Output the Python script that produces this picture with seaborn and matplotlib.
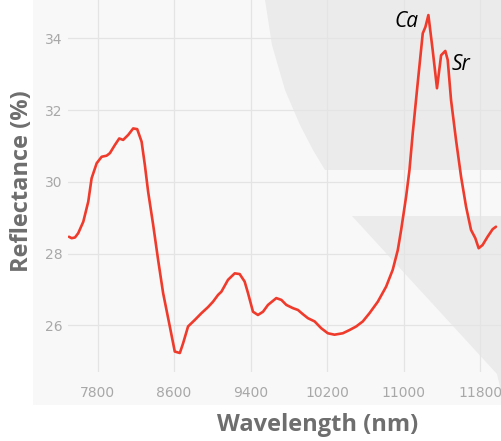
import matplotlib
matplotlib.use("Agg")
import matplotlib.pyplot as plt
import seaborn as sns
import pandas as pd
from matplotlib.patches import Rectangle, Polygon

wavelength = [7500, 7528, 7563, 7597, 7650, 7702, 7737, 7790, 7842, 7894, 7928, 7981,
              8026, 8067, 8120, 8172, 8214, 8260, 8294, 8328, 8381, 8433, 8485, 8555,
              8607, 8660, 8694, 8746, 8816, 8886, 8955, 9007, 9060, 9095, 9164, 9234,
              9286, 9338, 9373, 9425, 9477, 9530, 9582, 9669, 9722, 9774, 9843, 9895,
              9948, 10000, 10070, 10139, 10208, 10278, 10365, 10435, 10505, 10574, 10644,
              10731, 10818, 10887, 10940, 10975, 11027, 11062, 11096, 11148, 11201, 11229,
              11260, 11305, 11350, 11393, 11437, 11462, 11497, 11549, 11602, 11654, 11706,
              11751, 11786, 11827, 11879, 11932, 11967]
reflectance = [28.47, 28.43, 28.45, 28.57, 28.89, 29.45, 30.10, 30.52, 30.70, 30.73, 30.80, 31.03,
               31.21, 31.17, 31.31, 31.49, 31.47, 31.12, 30.47, 29.73, 28.80, 27.82, 26.90, 25.97,
               25.27, 25.23, 25.50, 25.97, 26.15, 26.34, 26.51, 26.66, 26.85, 26.94, 27.27, 27.45,
               27.43, 27.22, 26.90, 26.38, 26.29, 26.38, 26.57, 26.76, 26.71, 26.57, 26.48, 26.43,
               26.31, 26.20, 26.11, 25.92, 25.78, 25.74, 25.78, 25.87, 25.97, 26.11, 26.34,
               26.66, 27.08, 27.55, 28.10, 28.66, 29.59, 30.33, 31.35, 32.75, 34.14, 34.32,
               34.65, 33.67, 32.61, 33.53, 33.65, 33.40, 32.28, 31.17, 30.14, 29.31, 28.66,
               28.43, 28.15, 28.24, 28.47, 28.68, 28.75]

x_ticks = [7800, 8600, 9400, 10200, 11000, 11800]
y_ticks = [26, 28, 30, 32, 34]
annotations = ["Ca", "Sr"]
annot_x = [11030, 11605]
annot_y = [34.48, 33.28]

df = pd.DataFrame({"Wavelength": wavelength, "Reflectance": reflectance})

sns.set_theme(style="white")
W, H = 502, 441
fig = plt.figure(figsize=(W / 100, H / 100), dpi=100, facecolor="white")

def fx(px):
    return px / W

def fy(py):
    return 1 - py / H

# panel background
fig.patches.append(Rectangle((fx(33), fy(405)), fx(502) - fx(33), fy(0) - fy(405),
                             transform=fig.transFigure, facecolor="#f8f8f8",
                             edgecolor="none", zorder=-3))
# faint watermark shapes
shape1 = [(265, 0), (272, 45), (285, 90), (300, 125), (313, 150), (325, 170),
          (502, 170), (502, 0)]
shape2 = [(352, 216), (502, 216), (502, 395), (497, 374)]
for shp in (shape1, shape2):
    fig.patches.append(Polygon([(fx(a), fy(b)) for a, b in shp], closed=True,
                               transform=fig.transFigure, facecolor="#ebebeb",
                               edgecolor="none", zorder=-2))

ax = fig.add_axes([fx(68), fy(372), fx(502) - fx(68), fy(0) - fy(372)])
ax.set_facecolor("none")

sns.lineplot(data=df, x="Wavelength", y="Reflectance", ax=ax, color="#ef3b2c",
             linewidth=1.9, estimator=None, sort=False)

ax.set_xlim(7490, 12030)
ax.set_ylim(24.70, 35.07)
ax.set_xticks(x_ticks)
ax.set_yticks(y_ticks)
ax.set_xticklabels([str(t) for t in x_ticks])
ax.set_yticklabels([str(t) for t in y_ticks])
ax.grid(True, color="#e4e4e4", linewidth=0.9)
ax.set_axisbelow(True)
for s in ax.spines.values():
    s.set_visible(False)
ax.tick_params(axis="both", length=0, labelcolor="#a8a8a8", labelsize=10)
ax.tick_params(axis="x", pad=10)
ax.tick_params(axis="y", pad=4)
for lab in ax.get_xticklabels() + ax.get_yticklabels():
    lab.set_family(["Liberation Sans Narrow", "DejaVu Sans"])
ax.set_xlabel("")
ax.set_ylabel("")

for txt, xa, ya in zip(annotations, annot_x, annot_y):
    ax.text(xa, ya, txt, fontsize=15, style="italic", color="black",
            ha="center", va="center", family=["Open Sans", "DejaVu Sans"])

fig.text(fx(318), fy(425), "Wavelength (nm)", ha="center", va="center",
         fontsize=17, fontweight="bold", color="#6e6e6e", family=["Open Sans", "DejaVu Sans"])
fig.text(fx(22), fy(181), "Reflectance (%)", ha="center", va="center", rotation=90,
         fontsize=17, fontweight="bold", color="#6e6e6e", family=["Open Sans", "DejaVu Sans"])

fig.savefig("out.png", dpi=100, facecolor="white")
